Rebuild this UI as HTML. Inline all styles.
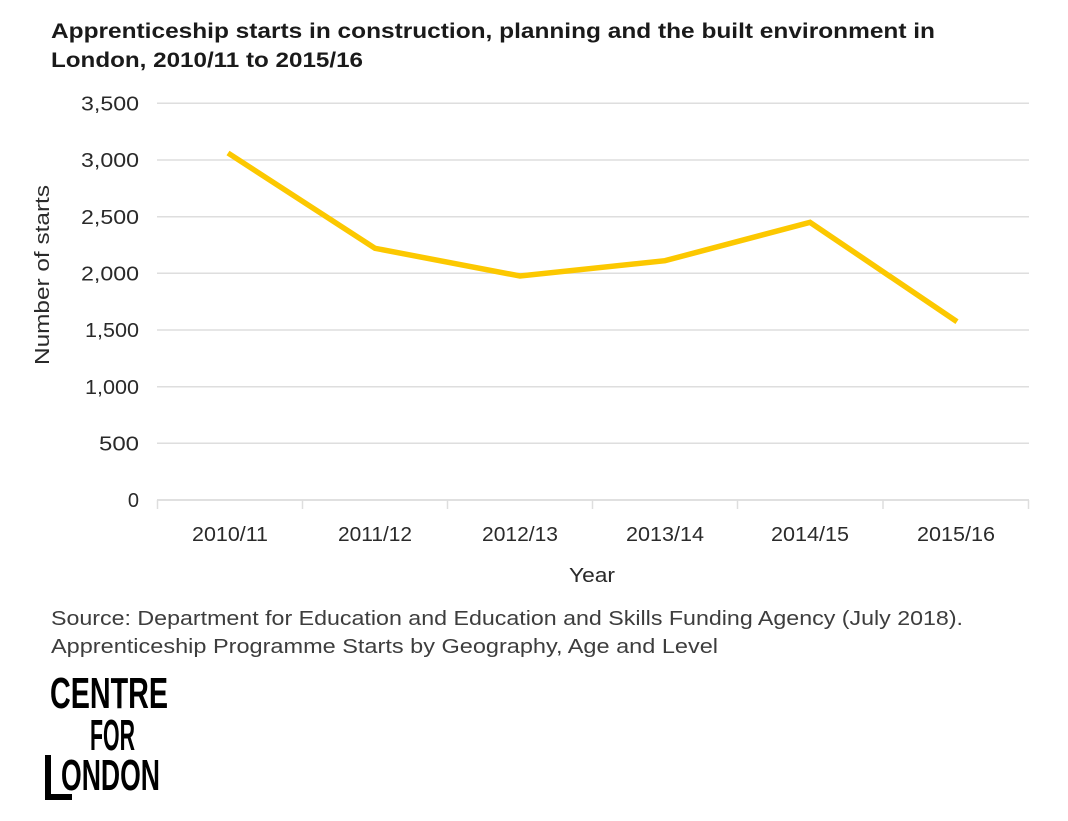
<!DOCTYPE html>
<html><head><meta charset="utf-8"><style>
html,body{margin:0;padding:0;background:#fff;}
svg{display:block;}
</style></head><body>
<svg width="1068" height="821" viewBox="0 0 1068 821" xmlns="http://www.w3.org/2000/svg">
<rect width="1068" height="821" fill="#fff"/>
<g font-family="Liberation Sans, sans-serif">
<text x="51" y="38" font-size="21" font-weight="bold" fill="#1a1a1a" textLength="884" lengthAdjust="spacingAndGlyphs">Apprenticeship starts in construction, planning and the built environment in</text>
<text x="51" y="67" font-size="21" font-weight="bold" fill="#1a1a1a" textLength="312" lengthAdjust="spacingAndGlyphs">London, 2010/11 to 2015/16</text>
</g>
<g stroke="#dedede" stroke-width="1.5" fill="none">
<line x1="157" y1="103.3" x2="1029" y2="103.3"/>
<line x1="157" y1="160" x2="1029" y2="160"/>
<line x1="157" y1="216.7" x2="1029" y2="216.7"/>
<line x1="157" y1="273.3" x2="1029" y2="273.3"/>
<line x1="157" y1="330" x2="1029" y2="330"/>
<line x1="157" y1="386.7" x2="1029" y2="386.7"/>
<line x1="157" y1="443.3" x2="1029" y2="443.3"/>
<line x1="157" y1="500" x2="1029" y2="500" stroke="#d6d6d6"/>
<line x1="157.5" y1="500" x2="157.5" y2="509"/>
<line x1="302.5" y1="500" x2="302.5" y2="509"/>
<line x1="447.5" y1="500" x2="447.5" y2="509"/>
<line x1="592.5" y1="500" x2="592.5" y2="509"/>
<line x1="737.5" y1="500" x2="737.5" y2="509"/>
<line x1="883" y1="500" x2="883" y2="509"/>
<line x1="1028.5" y1="500" x2="1028.5" y2="509"/>
</g>
<g font-family="Liberation Sans, sans-serif" font-size="20" fill="#2a2a2a" text-anchor="end">
<text x="139" y="110.5" textLength="58" lengthAdjust="spacingAndGlyphs">3,500</text>
<text x="139" y="167" textLength="58" lengthAdjust="spacingAndGlyphs">3,000</text>
<text x="139" y="224" textLength="58" lengthAdjust="spacingAndGlyphs">2,500</text>
<text x="139" y="280.5" textLength="58" lengthAdjust="spacingAndGlyphs">2,000</text>
<text x="139" y="337" textLength="54" lengthAdjust="spacingAndGlyphs">1,500</text>
<text x="139" y="394" textLength="54" lengthAdjust="spacingAndGlyphs">1,000</text>
<text x="139" y="450.5" textLength="40" lengthAdjust="spacingAndGlyphs">500</text>
<text x="139" y="507">0</text>
</g>
<g font-family="Liberation Sans, sans-serif" font-size="20" fill="#2a2a2a" text-anchor="middle">
<text x="230" y="541" textLength="76" lengthAdjust="spacingAndGlyphs">2010/11</text>
<text x="375" y="541" textLength="74" lengthAdjust="spacingAndGlyphs">2011/12</text>
<text x="520" y="541" textLength="76" lengthAdjust="spacingAndGlyphs">2012/13</text>
<text x="665" y="541" textLength="78" lengthAdjust="spacingAndGlyphs">2013/14</text>
<text x="810" y="541" textLength="78" lengthAdjust="spacingAndGlyphs">2014/15</text>
<text x="956" y="541" textLength="78" lengthAdjust="spacingAndGlyphs">2015/16</text>
<text x="592" y="582" textLength="46" lengthAdjust="spacingAndGlyphs">Year</text>
<text transform="translate(49,275) rotate(-90)" x="0" y="0" textLength="180" lengthAdjust="spacingAndGlyphs">Number of starts</text>
</g>
<polyline points="228,153 375,248.3 520,276 665,260.7 810,222.3 957,321.7" fill="none" stroke="#fcc800" stroke-width="5.5" stroke-linejoin="miter"/>
<g font-family="Liberation Sans, sans-serif" font-size="20" fill="#3d3d3d">
<text x="51" y="625" textLength="912" lengthAdjust="spacingAndGlyphs">Source: Department for Education and Education and Skills Funding Agency (July 2018).</text>
<text x="51" y="653" textLength="667" lengthAdjust="spacingAndGlyphs">Apprenticeship Programme Starts by Geography, Age and Level</text>
</g>
<g font-family="Liberation Sans Narrow, Liberation Sans, sans-serif" font-weight="bold" font-size="44" fill="#000">
<text x="50" y="708" textLength="118" lengthAdjust="spacingAndGlyphs">CENTRE</text>
<text x="90" y="750" textLength="45" lengthAdjust="spacingAndGlyphs">FOR</text>
<text x="61" y="790" textLength="99" lengthAdjust="spacingAndGlyphs">ONDON</text>
</g>
<path d="M45,755 H51 V794 H72 V800 H45 Z" fill="#000"/>
</svg>
</body></html>
